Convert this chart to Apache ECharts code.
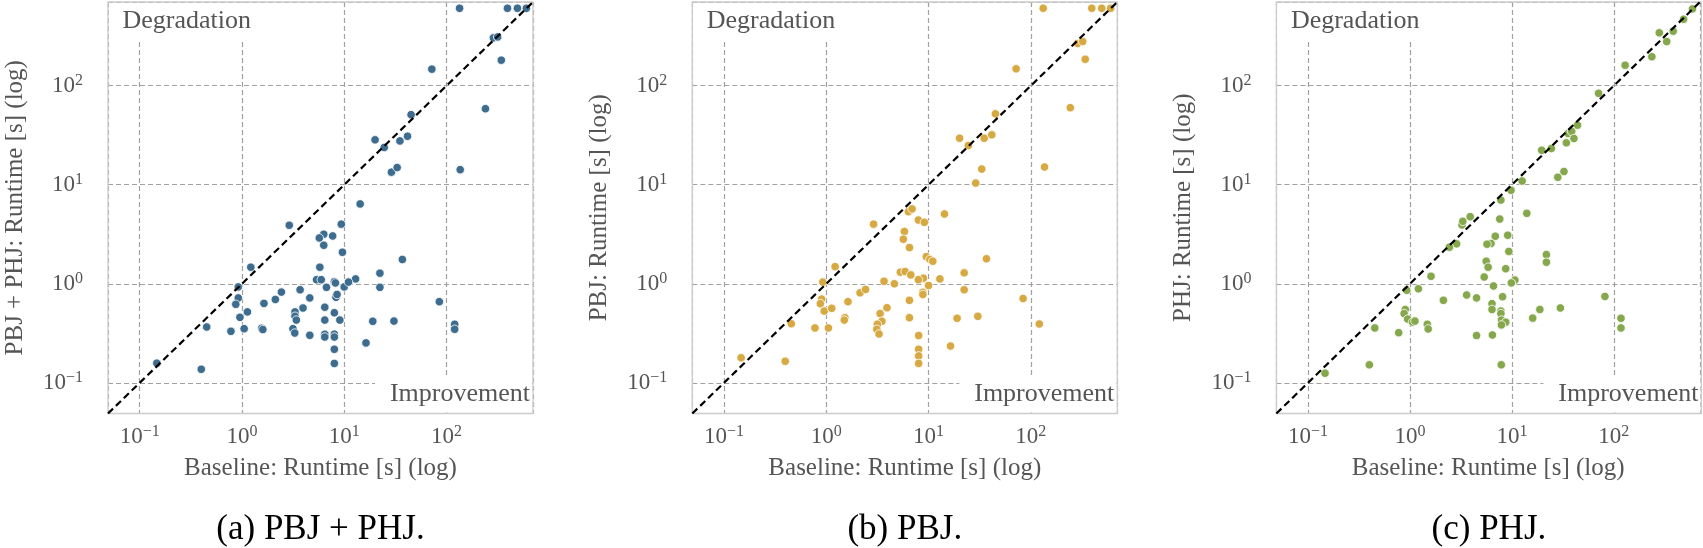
<!DOCTYPE html>
<html><head><meta charset="utf-8">
<script src="https://cdn.jsdelivr.net/npm/echarts@6/dist/echarts.min.js"></script>
<style>html,body{margin:0;padding:0;background:#fff}#c{width:1703px;height:548px}</style>
</head><body><div id="c"></div>
<script>
// ---- data ----
const axisMin = 0.049, axisMax = 700;
const diagonal = [[0.049, 0.049], [700, 700]];
const captions = ['(a) PBJ + PHJ.', '(b) PBJ.', '(c) PHJ.'];
const yAxisNames = ['PBJ + PHJ: Runtime [s] (log)', 'PBJ: Runtime [s] (log)', 'PHJ: Runtime [s] (log)'];
const xAxisName = 'Baseline: Runtime [s] (log)';
const cornerTop = 'Degradation', cornerBottom = 'Improvement';

const bothX = [134,394,493,603,287,316,343,71.8,240,45,20,24.6,35,41.5,28.9,32.9,136,14.3,2.9,9.35,6.3,5.7,7.7,6.3,9.6,1.22,5.77,37,22.3,22.3,12.9,5.36,5.96,8.0,6.7,9.98,11,0.92,0.92,0.87,0.955,1.13,1.05,0.78,0.452,0.147,0.4,1.64,2.12,2.43,3.7,4.6,3.95,3.3,3.3,3.4,1.56,1.6,3.15,3.28,4.6,6.45,6.45,8.0,8.3,9.05,6.45,6.45,8.0,8.0,8.0,8.0,16.3,19,30.6,85,120,120,8.5,8.2];
const bothY = [605,605,605,605,304,311,181,147,58.6,51,28.4,23.8,27.7,30.9,13.4,14.9,14.2,6.4,3.9,4.0,3.16,2.9,3.04,2.45,2.08,1.47,1.47,1.76,1.28,0.92,1.12,1.1,1.1,1.05,0.92,0.93,1.04,0.93,0.72,0.62,0.458,0.52,0.352,0.331,0.366,0.158,0.137,0.634,0.695,0.824,0.87,0.72,0.569,0.52,0.47,0.43,0.355,0.345,0.352,0.318,0.302,0.58,0.43,0.51,0.73,0.43,0.309,0.29,0.31,0.29,0.218,0.157,0.253,0.418,0.42,0.66,0.39,0.347,0.78,1.02];

const pbjX = [132,394,493,603,287,321,340,71.8,243,45,20.1,24.5,35,41.5,33.1,28.9,136,14.3,2.9,6.35,6.9,7.95,9.1,5.8,5.67,6.5,1.22,9.5,10.3,11,36.8,22.3,22.3,12.9,5.3,5.9,6.7,8.9,7.95,3.67,4.63,10,8.8,8.8,0.925,0.9,0.875,0.955,1.13,1.05,0.775,0.455,0.147,0.397,1.63,2.14,2.42,1.52,1.5,3.92,3.36,3.5,3.16,3.12,3.28,6.5,6.5,8.0,8.0,8.0,8.0,16.4,19,30.3,84,121];
const pbjY = [605,605,605,605,267,279,185,148,60,52,29.5,24.9,29.5,31.9,14.4,10.4,15.1,5.07,4.0,5.35,5.7,4.4,4.17,3.37,2.82,2.32,1.49,1.88,1.76,1.69,1.79,1.29,0.87,1.12,1.31,1.33,1.23,1.14,1.1,1.06,1.0,0.96,0.82,0.78,1.04,0.70,0.63,0.53,0.565,0.358,0.358,0.395,0.179,0.165,0.66,0.81,0.877,0.455,0.43,0.573,0.50,0.418,0.39,0.347,0.311,0.68,0.455,0.3,0.218,0.187,0.157,0.235,0.448,0.469,0.71,0.393];

const phjX = [590,483,382,279,330,236,129,70.8,44,35.6,38.6,34.2,40.6,19.6,24.4,28.2,32.4,12.6,9.8,7.8,14,7.6,3.9,3.24,3.3,6.87,9.1,6.24,5.7,2.87,2.44,9.33,21.8,21.8,5.6,5.85,8.7,5.35,1.61,10.7,9.87,6.6,1.21,0.93,3.6,4.5,8.1,2.13,6.38,6.38,7.8,7.8,0.9,0.877,0.95,1.06,1.12,1.48,1.51,0.452,0.776,7.9,8.7,7.9,16,18.8,29.9,81.8,117.5,117.5,4.5,6.44,7.87,0.4,0.147];
const phjY = [596,469,355,342,279,196,161,83.7,39.9,32.9,34.5,26.5,29.3,22.3,23.2,11.9,13.6,10.9,8.8,7.0,5.14,4.5,4.76,3.93,4.27,3.02,3.09,2.55,2.51,2.53,2.34,2.12,1.97,1.65,1.69,1.47,1.42,1.17,1.19,1.09,1.02,0.95,0.89,0.86,0.77,0.72,0.74,0.68,0.63,0.55,0.53,0.5,0.55,0.50,0.44,0.41,0.42,0.39,0.35,0.358,0.321,0.43,0.41,0.384,0.45,0.55,0.57,0.745,0.448,0.358,0.3,0.304,0.152,0.152,0.125];

const seriesX = [bothX, pbjX, phjX];
const seriesY = [bothY, pbjY, phjY];
const colors = ['#3e6c8f', '#d7a942', '#85a84d'];

// ---- layout / style ----
const FONT = '"Liberation Serif", "Times New Roman", serif';
const GRAY = '#555555';
const LEFTS = [108, 692.3, 1276.4];
const TOP = 2, W = 425, H = 411.5;

function fmt(v) {
  const l = Math.log10(v), e = Math.round(l);
  if (Math.abs(l - e) > 1e-6) return '';
  return '{b|10}{s|' + (e < 0 ? '\u2212' + (-e) : e) + '}';
}
const rich = {
  b: {fontFamily: FONT, fontSize: 23, color: GRAY, lineHeight: 26},
  s: {fontFamily: FONT, fontSize: 16, color: GRAY, lineHeight: 16, verticalAlign: 'top'}
};
const splitLine = {show: true, lineStyle: {color: '#a0a0a0', width: 1.2, type: [5, 3]}};

const grid = [], xAxis = [], yAxis = [], series = [], graphic = [];
for (let i = 0; i < 3; i++) {
  const L = LEFTS[i];
  grid.push({left: L, top: TOP, width: W, height: H, containLabel: false});
  xAxis.push({
    gridIndex: i, type: 'log', logBase: 10, min: axisMin, max: axisMax,
    axisLine: {show: false}, axisTick: {show: false}, minorTick: {show: false},
    splitLine: splitLine,
    axisLabel: {formatter: fmt, rich: rich, margin: 10, hideOverlap: false},
    name: xAxisName, nameLocation: 'middle', nameGap: 42,
    nameTextStyle: {fontFamily: FONT, fontSize: 25, color: GRAY}
  });
  yAxis.push({
    gridIndex: i, type: 'log', logBase: 10, min: axisMin, max: axisMax,
    axisLine: {show: false}, axisTick: {show: false}, minorTick: {show: false},
    splitLine: splitLine,
    axisLabel: {formatter: fmt, rich: rich, margin: 25, hideOverlap: false},
    name: yAxisNames[i], nameLocation: 'middle', nameGap: 80, nameRotate: 90,
    nameTextStyle: {fontFamily: FONT, fontSize: 25, color: GRAY}
  });
  series.push({
    type: 'scatter', xAxisIndex: i, yAxisIndex: i, z: 10,
    data: seriesX[i].map((x, k) => [x, seriesY[i][k]]),
    symbolSize: 8.5,
    itemStyle: {color: colors[i], borderColor: '#ffffff', borderWidth: 0.8, opacity: 1}
  });
  series.push({
    type: 'line', xAxisIndex: i, yAxisIndex: i, z: 12,
    data: diagonal, symbol: 'none',
    lineStyle: {color: '#000000', width: 2.2, type: [7, 4]}
  });
  // white boxes behind corner labels (cover grid lines)
  graphic.push({type: 'rect', z: 5, shape: {x: L + 1, y: TOP + 1, width: 156, height: 37}, style: {fill: '#fff'}});
  graphic.push({type: 'rect', z: 5, shape: {x: L + 267, y: 375, width: W - 268, height: TOP + H - 376}, style: {fill: '#fff'}});
  graphic.push({type: 'text', z: 6, x: L + 14.5, y: 21, style: {text: cornerTop, font: '26px ' + FONT, fill: GRAY, textVerticalAlign: 'middle', textAlign: 'left'}});
  graphic.push({type: 'text', z: 6, x: L + W - 3, y: 394, style: {text: cornerBottom, font: '26px ' + FONT, fill: GRAY, textVerticalAlign: 'middle', textAlign: 'right'}});
  // frame
  graphic.push({type: 'rect', z: 7, shape: {x: L, y: TOP, width: W, height: H}, style: {fill: null, stroke: '#cccccc', lineWidth: 1.3}});
  // caption
  graphic.push({type: 'text', z: 6, x: L + W / 2, y: 530, style: {text: captions[i], font: '35px ' + FONT, fill: '#000', textVerticalAlign: 'middle', textAlign: 'center'}});
}

const chart = echarts.init(document.getElementById('c'), null, {renderer: 'canvas'});
chart.setOption({animation: false, backgroundColor: '#fff', grid, xAxis, yAxis, series, graphic});
</script></body></html>
